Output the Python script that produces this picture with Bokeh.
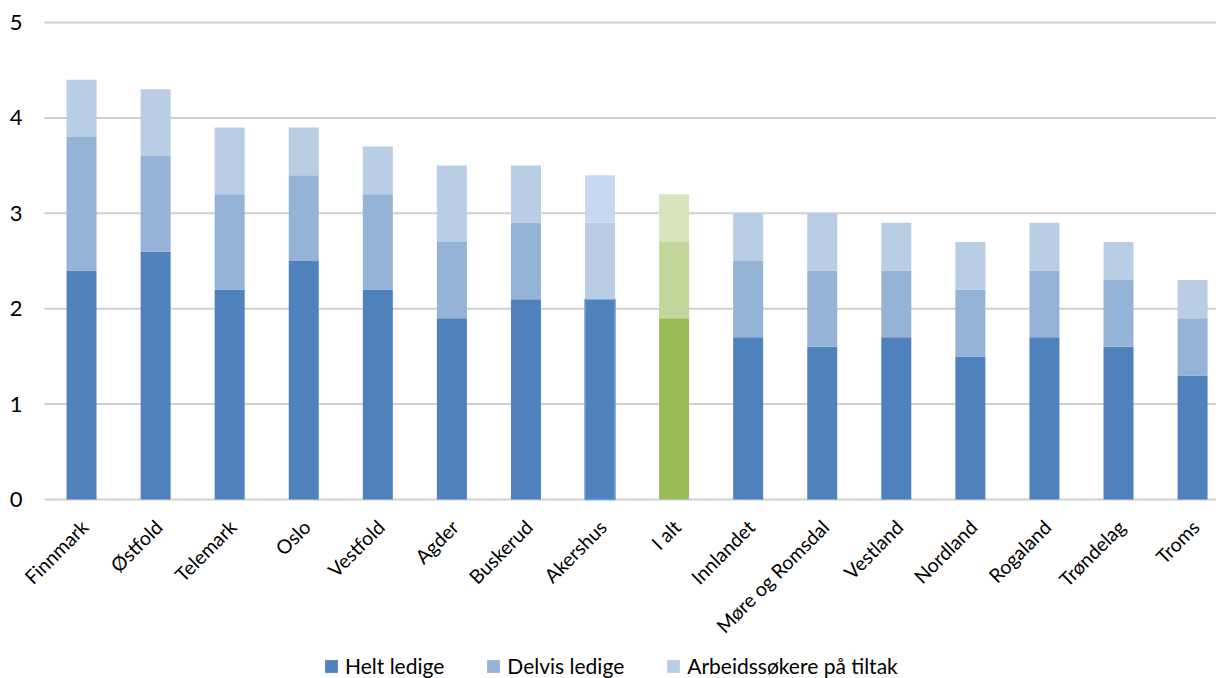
from bokeh.plotting import figure
from bokeh.models import ColumnDataSource, Range1d, Legend, LegendItem
from bokeh.core.properties import value
from bokeh.embed import file_html
from bokeh.resources import INLINE
import math

categories = ["Finnmark", "Østfold", "Telemark", "Oslo", "Vestfold", "Agder", "Buskerud",
              "Akershus", "I alt", "Innlandet", "Møre og Romsdal", "Vestland", "Nordland",
              "Rogaland", "Trøndelag", "Troms"]
helt = [2.4, 2.6, 2.2, 2.5, 2.2, 1.9, 2.1, 2.1, 1.9, 1.7, 1.6, 1.7, 1.5, 1.7, 1.6, 1.3]
delvis = [1.4, 1.0, 1.0, 0.9, 1.0, 0.8, 0.8, 0.8, 0.8, 0.8, 0.8, 0.7, 0.7, 0.7, 0.7, 0.6]
tiltak = [0.6, 0.7, 0.7, 0.5, 0.5, 0.8, 0.6, 0.5, 0.5, 0.5, 0.6, 0.5, 0.5, 0.5, 0.4, 0.4]
series_names = ["Helt ledige", "Delvis ledige", "Arbeidssøkere på tiltak"]
y_ticks = [0, 1, 2, 3, 4, 5]
y_tick_labels = ["0", "1", "2", "3", "4", "5"]

FONT = "Lato"
base_colors = ["#4F81BD", "#95B3D7", "#B9CDE5"]
green_colors = ["#9BBB59", "#C3D69B", "#D7E4BD"]
akershus_colors = ["#4F81BD", "#B9CDE5", "#C6D9F1"]

x = list(range(len(categories)))

# frame covers the whole page; the plot area (gridlines) starts 44px from the left,
# the top gridline (5) is 22px from the top and 0 sits 179px above the bottom
FRAME_W = 1216
FRAME_H = 678
LEFT_PX = 44
CAT_PX = 74.07
TOP_PX = 22
ZERO_PX_FROM_BOTTOM = 179
Y_MAX_TICK = 5
x_start = -0.5 - LEFT_PX / CAT_PX
x_end = x_start + FRAME_W / CAT_PX
px_per_unit = (FRAME_H - ZERO_PX_FROM_BOTTOM - TOP_PX) / Y_MAX_TICK
y_min = -ZERO_PX_FROM_BOTTOM / px_per_unit
y_max = Y_MAX_TICK + TOP_PX / px_per_unit

p = figure(frame_width=FRAME_W, frame_height=FRAME_H, output_backend="svg", toolbar_location=None,
           x_range=Range1d(x_start, x_end), y_range=Range1d(y_min, y_max),
           min_border_left=0, min_border_right=0, min_border_top=0, min_border_bottom=0)
p.outline_line_color = None
p.background_fill_color = "white"
p.border_fill_color = "white"
p.xaxis.visible = False
p.yaxis.visible = False
p.xgrid.grid_line_color = None
p.ygrid.grid_line_color = None

# horizontal gridlines from the left edge of the plot area
p.segment(x0=[-0.5] * len(y_ticks), x1=[x_end] * len(y_ticks), y0=y_ticks, y1=y_ticks,
          line_color="#D0D0D0", line_width=2)

bottoms = [0] * len(x)
renderers = []
seg_values = [helt, delvis, tiltak]
for si, vals in enumerate(seg_values):
    tops = [b + v for b, v in zip(bottoms, vals)]
    colors = []
    line_colors = []
    for i, c in enumerate(categories):
        if c == "I alt":
            colors.append(green_colors[si])
        elif c == "Akershus":
            colors.append(akershus_colors[si])
        else:
            colors.append(base_colors[si])
        if c == "Akershus" and si == 0:
            line_colors.append("#6B9BE0")
        else:
            line_colors.append(None)
    src = ColumnDataSource(dict(x=x, bottom=bottoms, top=tops, color=colors, lc=line_colors))
    r = p.vbar(x="x", bottom="bottom", top="top", width=0.405, source=src,
               fill_color="color", line_color="lc", line_width=1.5)
    renderers.append(r)
    bottoms = tops

# y tick labels
ylab_src = ColumnDataSource(dict(x=[-0.5] * len(y_ticks), y=y_ticks, text=y_tick_labels))
p.text(x="x", y="y", text="text", source=ylab_src, text_align="right", text_baseline="middle",
       x_offset=-22, y_offset=0, text_font=value(FONT), text_font_size="22px", text_color="#000000")

# category labels, rotated, under the zero line
lab_src = ColumnDataSource(dict(x=x, y=[0] * len(x), text=categories))
p.text(x="x", y="y", text="text", source=lab_src, angle=math.pi / 4,
       text_align="right", text_baseline="middle", x_offset=3, y_offset=24,
       text_font=value(FONT), text_font_size="19.5px", text_color="#000000")

legend = Legend(items=[LegendItem(label=n, renderers=[r], index=0) for n, r in zip(series_names, renderers)],
                orientation="horizontal", location=(323, 0),
                label_text_font=FONT, label_text_font_size="21px", label_text_color="#000000",
                glyph_width=16, glyph_height=16, spacing=41, label_standoff=6,
                border_line_color=None, background_fill_alpha=0, margin=0, padding=2)
p.add_layout(legend)

open("out.html", "w").write(file_html(p, INLINE))
